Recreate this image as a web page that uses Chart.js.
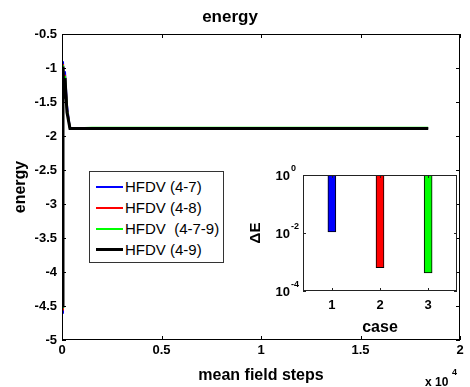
<!DOCTYPE html>
<html><head><meta charset="utf-8">
<script src="https://cdn.jsdelivr.net/npm/chart.js@4/dist/chart.umd.min.js"></script>
<style>
html,body{margin:0;padding:0;background:#fff;}
#wrap{position:relative;width:470px;height:387px;overflow:hidden;background:#fff;}
#main{position:absolute;left:0;top:0;}
#inset{position:absolute;left:240px;top:155px;}
#legend{position:absolute;left:89px;top:171px;width:133px;height:90px;border:1px solid #333;background:#fff;font:15px "Liberation Sans",Arial,sans-serif;color:#000;}
.row{position:absolute;left:0;width:133px;height:21px;}
.sw{position:absolute;left:6px;width:27px;top:10px;}
.lb{position:absolute;left:35px;top:0;line-height:21px;white-space:pre;}
</style></head>
<body>
<div id="wrap">
<canvas id="main" width="470" height="387"></canvas>
<canvas id="inset" width="225" height="185"></canvas>
<div id="legend"></div>
</div>
<script>
// ---- data ----
const seriesNames = ['HFDV (4-7)', 'HFDV (4-8)', 'HFDV  (4-7-9)', 'HFDV (4-9)'];
const seriesColors = ['#0000ff', '#ff0000', '#00ff00', '#000000'];
const steps = [0, 50, 100, 150, 250, 400, 1500, 18400];
const energyBlue  = [-4.60, -0.90, -1.35, -1.05, -1.55, -1.89, -1.890, -1.890];
const energyRed   = [-4.55, -0.94, -1.40, -1.10, -1.60, -1.89, -1.885, -1.885];
const energyGreen = [-4.52, -0.96, -1.42, -1.12, -1.62, -1.89, -1.878, -1.878];
const energyBlack = [-4.50, -0.98, -1.45, -1.15, -1.65, -1.89, -1.890, -1.890];
const xTicks = [0, 5000, 10000, 15000, 20000];
const yTicks = [-5, -4.5, -4, -3.5, -3, -2.5, -2, -1.5, -1, -0.5];
const cases = [1, 2, 3];
const deltaE = [1.1e-2, 6.4e-4, 4.2e-4];
const barColors = ['#0000ff', '#ff0000', '#00ff00'];
const logTicks = [1e-4, 1e-2, 1];

const FONT = '"Liberation Sans", Arial, Helvetica, sans-serif';
Chart.defaults.font.family = FONT;
Chart.defaults.color = '#000';

// legend (HTML)
const leg = document.getElementById('legend');
seriesNames.forEach((n, i) => {
  const r = document.createElement('div');
  r.className = 'row';
  r.style.top = (4 + i * 21) + 'px';
  const sw = document.createElement('div');
  sw.className = 'sw';
  sw.style.borderTop = (i === 3 ? 3 : 2) + 'px solid ' + seriesColors[i];
  sw.style.top = (i === 3 ? 9 : 10) + 'px';
  const lb = document.createElement('div');
  lb.className = 'lb';
  lb.textContent = n;
  r.appendChild(sw); r.appendChild(lb);
  leg.appendChild(r);
});

const energies = [energyBlue, energyRed, energyGreen, energyBlack];

const frameMain = {
  id: 'frameMain',
  afterDraw(chart) {
    const {ctx, chartArea: a, scales} = chart;
    ctx.save();
    ctx.strokeStyle = '#000';
    ctx.lineWidth = 1;
    ctx.strokeRect(Math.round(a.left) + 0.5, Math.round(a.top) + 0.5, Math.round(a.right - a.left) - 1, Math.round(a.bottom - a.top) - 1);
    ctx.beginPath();
    const tl = 4;
    xTicks.forEach(v => {
      const x = Math.round(scales.x.getPixelForValue(v)) + 0.5;
      ctx.moveTo(x, a.bottom); ctx.lineTo(x, a.bottom - tl);
      ctx.moveTo(x, a.top); ctx.lineTo(x, a.top + tl);
    });
    yTicks.forEach(v => {
      const y = Math.round(scales.y.getPixelForValue(v)) + 0.5;
      ctx.moveTo(a.left, y); ctx.lineTo(a.left + tl, y);
      ctx.moveTo(a.right, y); ctx.lineTo(a.right - tl, y);
    });
    ctx.stroke();
    ctx.fillStyle = '#000';
    ctx.textBaseline = 'alphabetic';
    ctx.textAlign = 'left';
    ctx.font = 'bold 12px ' + FONT;
    ctx.fillText('x 10', 425, 386);
    ctx.font = 'bold 9px ' + FONT;
    ctx.fillText('4', 452, 375);
    ctx.restore();
  }
};

new Chart(document.getElementById('main'), {
  type: 'line',
  data: {
    datasets: energies.map((arr, i) => ({
      label: seriesNames[i],
      data: steps.map((s, j) => ({x: s, y: arr[j]})),
      borderColor: seriesColors[i],
      backgroundColor: seriesColors[i],
      borderWidth: i === 3 ? 3 : 2,
      pointRadius: 0,
      tension: 0,
      fill: false,
      order: 3 - i
    }))
  },
  options: {
    responsive: false,
    animation: false,
    layout: {padding: {left: 0, right: 10, top: 0, bottom: 0}},
    plugins: {
      legend: {display: false},
      tooltip: {enabled: false},
      title: {display: true, text: 'energy', color: '#000', font: {size: 17, weight: 'bold', lineHeight: 1.2}, padding: {top: 7, bottom: 6.6}}
    },
    scales: {
      x: {
        type: 'linear', min: 0, max: 20000,
        afterBuildTicks: s => { s.ticks = xTicks.map(v => ({value: v})); },
        grid: {display: false, drawTicks: false},
        border: {display: false},
        ticks: {padding: 3, font: {size: 13, weight: 'bold'}, color: '#000', maxRotation: 0, callback: v => String(v / 10000)},
        title: {display: true, text: 'mean field steps', color: '#000', font: {size: 16, weight: 'bold', lineHeight: 1.2}, padding: {top: 0, bottom: 2}},
        afterFit: s => { s.height = 47; s.paddingLeft = 0; s.paddingRight = 0; }
      },
      y: {
        type: 'linear', min: -5, max: -0.5,
        afterBuildTicks: s => { s.ticks = yTicks.map(v => ({value: v})); },
        grid: {display: false, drawTicks: false},
        border: {display: false},
        ticks: {padding: 5, font: {size: 13, weight: 'bold'}, color: '#000', callback: v => String(v)},
        title: {display: true, text: 'energy', color: '#000', font: {size: 16, weight: 'bold', lineHeight: 1.2}, padding: {top: 11, bottom: 0}},
        afterFit: s => { s.width = 62; s.paddingTop = 0; s.paddingBottom = 0; }
      }
    }
  },
  plugins: [frameMain]
});

const frameInset = {
  id: 'frameInset',
  afterDraw(chart) {
    const {ctx, chartArea: a, scales} = chart;
    ctx.save();
    ctx.strokeStyle = '#222';
    ctx.lineWidth = 1;
    ctx.strokeRect(Math.round(a.left) + 0.5, Math.round(a.top) + 0.5, Math.round(a.right - a.left) - 1, Math.round(a.bottom - a.top) - 1);
    ctx.beginPath();
    const tl = 3;
    cases.forEach(v => {
      const x = Math.round(scales.x.getPixelForValue(v)) + 0.5;
      ctx.moveTo(x, a.bottom); ctx.lineTo(x, a.bottom - tl);
      ctx.moveTo(x, a.top); ctx.lineTo(x, a.top + tl);
    });
    logTicks.forEach(v => {
      const y = Math.round(scales.y.getPixelForValue(v)) + 0.5;
      ctx.moveTo(a.left, y); ctx.lineTo(a.left + tl, y);
      ctx.moveTo(a.right, y); ctx.lineTo(a.right - tl, y);
    });
    ctx.stroke();
    ctx.fillStyle = '#000';
    logTicks.forEach(v => {
      const y = scales.y.getPixelForValue(v);
      const e = Math.round(Math.log10(v));
      ctx.font = 'bold 13px ' + FONT;
      ctx.textAlign = 'right';
      ctx.textBaseline = 'middle';
      ctx.fillText('10', a.left - 13, y + 1);
      ctx.font = 'bold 9px ' + FONT;
      ctx.textAlign = 'left';
      ctx.fillText(String(e), a.left - 12, y - 6);
    });
    ctx.restore();
  }
};

new Chart(document.getElementById('inset'), {
  type: 'bar',
  data: {
    datasets: [{
      data: cases.map((c, i) => ({x: c, y: [deltaE[i], 1]})),
      backgroundColor: barColors,
      borderColor: '#000',
      borderWidth: 1,
      borderSkipped: false,
      barThickness: 8
    }]
  },
  options: {
    responsive: false,
    animation: false,
    layout: {padding: {left: 0, right: 8, top: 20, bottom: 0}},
    plugins: {legend: {display: false}, tooltip: {enabled: false}},
    scales: {
      x: {
        type: 'linear', min: 0.4, max: 3.6, offset: false,
        afterBuildTicks: s => { s.ticks = cases.map(v => ({value: v})); },
        grid: {display: false, drawTicks: false},
        border: {display: false},
        ticks: {padding: 7, font: {size: 13, weight: 'bold'}, color: '#000', maxRotation: 0},
        title: {display: true, text: 'case', color: '#000', font: {size: 16, weight: 'bold', lineHeight: 1.2}, padding: {top: 0, bottom: 3}},
        afterFit: s => { s.height = 49; s.paddingLeft = 0; s.paddingRight = 0; }
      },
      y: {
        type: 'logarithmic', min: 1e-4, max: 1,
        afterBuildTicks: s => { s.ticks = logTicks.map(v => ({value: v})); },
        grid: {display: false, drawTicks: false},
        border: {display: false},
        ticks: {display: false},
        title: {display: true, text: 'ΔE', color: '#000', font: {size: 15, weight: 'bold', lineHeight: 1.2}, padding: {top: 7, bottom: 0}},
        afterFit: s => { s.width = 63; s.paddingTop = 0; s.paddingBottom = 0; }
      }
    }
  },
  plugins: [frameInset]
});
</script>
</body></html>
